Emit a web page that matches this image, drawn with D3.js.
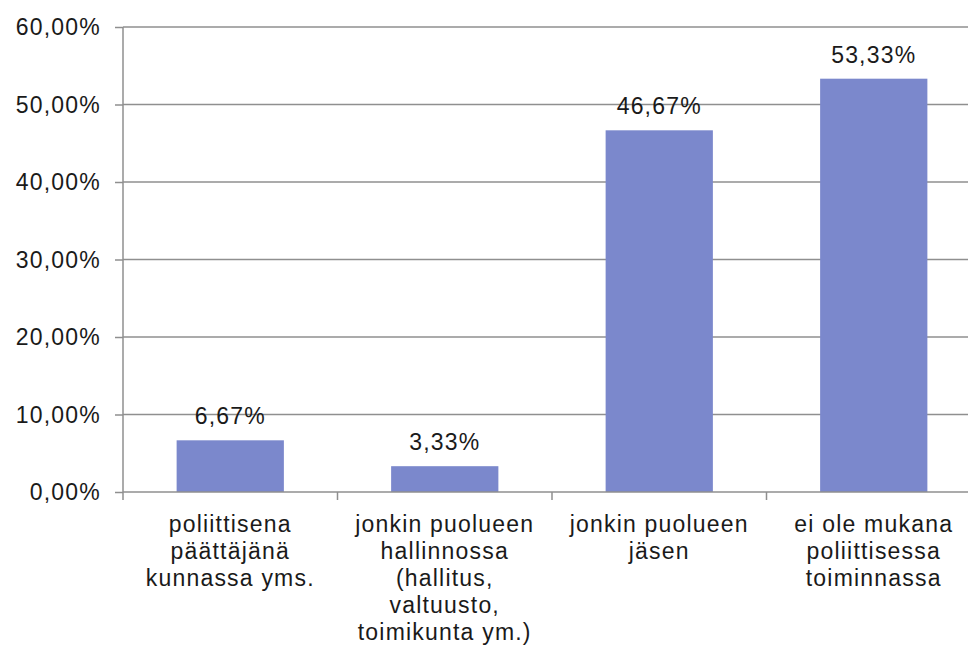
<!DOCTYPE html>
<html>
<head>
<meta charset="utf-8">
<script src="https://cdn.jsdelivr.net/npm/d3@7.9.0/dist/d3.min.js"></script>
<style>
  body { margin: 0; background: #fff; }
  text { font-family: "Liberation Sans", Arial, sans-serif; fill: #1a1a1a; letter-spacing: 1.2px; }
</style>
</head>
<body>
<svg width="968" height="659"></svg>
<script>
const categories = [
  ["poliittisena", "päättäjänä", "kunnassa yms."],
  ["jonkin puolueen", "hallinnossa", "(hallitus,", "valtuusto,", "toimikunta ym.)"],
  ["jonkin puolueen", "jäsen"],
  ["ei ole mukana", "poliittisessa", "toiminnassa"]
];
const values = [0.0667, 0.0333, 0.4667, 0.5333];
const yTicks = [0, 0.1, 0.2, 0.3, 0.4, 0.5, 0.6];

const fi = d3.formatLocale({ decimal: ",", thousands: " ", grouping: [3], currency: ["", " €"] });
const tickFmt = fi.format(".2%");

const svg = d3.select('svg');
const plotLeft = 123, plotRight = 981, plotTop = 27, plotBottom = 492;
const fontSize = 23;

let x = d3.scaleBand()
  .domain(d3.range(categories.length))
  .range([plotLeft, plotRight])
  .paddingInner(0.5)
  .paddingOuter(0.25);

let y = d3.scaleLinear().domain([0, 0.6]).range([plotBottom, plotTop]);

// gridlines
svg.append('g')
  .selectAll('line')
  .data(yTicks.filter(d => d > 0))
  .join('line')
  .attr('x1', plotLeft).attr('x2', plotRight)
  .attr('y1', d => y(d)).attr('y2', d => y(d))
  .attr('stroke', '#8f8f8f')
  .attr('stroke-width', 1.5);

// bars
svg.append('g')
  .selectAll('rect')
  .data(values)
  .join('rect')
  .attr('x', (d, i) => x(i))
  .attr('width', x.bandwidth())
  .attr('y', d => y(d))
  .attr('height', d => plotBottom - y(d))
  .attr('fill', '#7b88cc');

// y axis
let yAxis = d3.axisLeft(y).tickValues(yTicks).tickFormat(tickFmt).tickSize(8).tickPadding(14);
let yg = svg.append('g').attr('transform', `translate(${plotLeft},0)`).call(yAxis);
yg.select('.domain').attr('stroke', '#8f8f8f').attr('stroke-width', 1.5).attr('d', `M0,${plotTop}V${plotBottom + 8}`);
yg.selectAll('.tick line').attr('stroke', '#8f8f8f').attr('stroke-width', 1.5);
yg.selectAll('.tick text')
  .attr('font-size', fontSize)
  .attr('font-family', '"Liberation Sans", Arial, sans-serif')
  .attr('fill', '#1a1a1a')
  .attr('dy', '0.34em');

// x axis line and category boundary ticks
svg.append('line')
  .attr('x1', plotLeft).attr('x2', plotRight)
  .attr('y1', plotBottom).attr('y2', plotBottom)
  .attr('stroke', '#8f8f8f').attr('stroke-width', 1.5);
let step = x.step();
svg.append('g')
  .selectAll('line')
  .data(d3.range(1, categories.length + 1))
  .join('line')
  .attr('x1', i => x(0) - x.bandwidth() / 2 + i * step)
  .attr('x2', i => x(0) - x.bandwidth() / 2 + i * step)
  .attr('y1', plotBottom).attr('y2', plotBottom + 8)
  .attr('stroke', '#8f8f8f').attr('stroke-width', 1.5);

// category labels
categories.forEach((lines, i) => {
  let t = svg.append('text')
    .attr('text-anchor', 'middle')
    .attr('font-size', fontSize)
    .attr('x', x(i) + x.bandwidth() / 2)
    .attr('y', 532);
  lines.forEach((line, j) => {
    t.append('tspan')
      .attr('x', x(i) + x.bandwidth() / 2)
      .attr('dy', j === 0 ? 0 : 27)
      .text(line);
  });
});

// value labels
svg.append('g')
  .selectAll('text')
  .data(values)
  .join('text')
  .attr('text-anchor', 'middle')
  .attr('font-size', fontSize)
  .attr('x', (d, i) => x(i) + x.bandwidth() / 2)
  .attr('y', d => y(d) - 16)
  .text(d => tickFmt(d));
</script>
</body>
</html>
